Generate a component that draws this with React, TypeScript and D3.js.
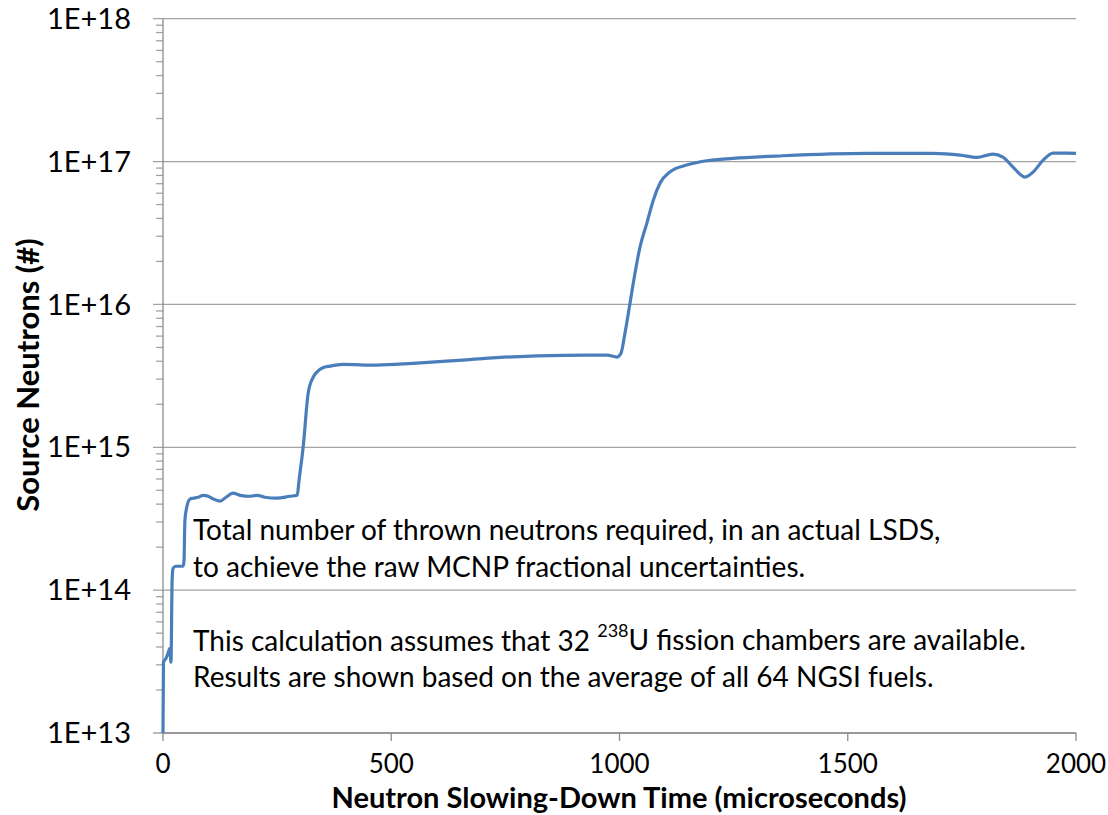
import * as d3 from "d3";

// time (microseconds) and source neutrons
const times = [
  0, 1, 6.6, 11, 15, 17.5, 20, 22, 28, 44, 46, 48, 53, 59, 66, 77, 88, 99, 107, 125, 138, 153,
  169, 191, 206, 223, 250, 278, 294, 298, 307, 318, 329, 337, 350, 366, 394, 469, 548, 657, 767,
  876, 973, 988, 994, 1003, 1012, 1023, 1034, 1045, 1060, 1074, 1089, 1111, 1147, 1191, 1249,
  1358, 1542, 1687, 1746, 1783, 1818, 1840, 1862, 1888, 1906, 1928, 1950, 1980, 2000,
];
const neutrons = [
  1e13, 3.13e13, 3.33e13, 3.61e13, 3.92e13, 3.13e13, 1.17e14, 1.42e14, 1.47e14, 1.47e14, 1.6e14,
  3.08e14, 3.93e14, 4.34e14, 4.4e14, 4.47e14, 4.61e14, 4.54e14, 4.4e14, 4.2e14, 4.47e14, 4.77e14,
  4.61e14, 4.54e14, 4.61e14, 4.47e14, 4.4e14, 4.54e14, 4.61e14, 5.86e14, 1e15, 2.39e15, 3.09e15,
  3.36e15, 3.6e15, 3.7e15, 3.8e15, 3.76e15, 3.87e15, 4.08e15, 4.3e15, 4.4e15, 4.42e15, 4.32e15,
  4.28e15, 4.54e15, 6.3e15, 1.02e16, 1.66e16, 2.53e16, 3.71e16, 5.37e16, 7.07e16, 8.48e16,
  9.45e16, 1.013e17, 1.053e17, 1.098e17, 1.14e17, 1.14e17, 1.11e17, 1.07e17, 1.128e17, 1.075e17,
  9.15e16, 7.79e16, 8.44e16, 1.024e17, 1.147e17, 1.147e17, 1.14e17,
];

const xTicks = [0, 500, 1000, 1500, 2000];
const yTicks = [1e13, 1e14, 1e15, 1e16, 1e17, 1e18];
const yTickLabels = ["1E+13", "1E+14", "1E+15", "1E+16", "1E+17", "1E+18"];

const W = 1108;
const H = 815;
const font = "Lato, 'Open Sans', sans-serif";

const App = () => {
  const x = d3.scaleLinear().domain([0, 2000]).range([163, 1076]);
  const y = d3.scaleLog().domain([1e13, 1e18]).range([733, 18.7]);

  const pts = times.map((t, i) => [t, neutrons[i]] as [number, number]);
  const line = d3
    .line<[number, number]>()
    .x((d) => x(d[0]))
    .y((d) => y(d[1]))
    .curve(d3.curveMonotoneX);

  // minor log ticks 2..9 in each decade
  const minor: number[] = [];
  for (let e = 13; e < 18; e++) {
    for (let k = 2; k <= 9; k++) minor.push(k * Math.pow(10, e));
  }

  return (
    <svg
      width={W}
      height={H}
      style={{ position: "absolute", left: 0, top: 0, background: "#fff" }}
      fontFamily={font}
    >
      {yTicks.map((v) => (
        <line key={"g" + v} x1={x(0) - 10} x2={x(2000)} y1={y(v)} y2={y(v)} stroke="#a3a3a3" strokeWidth={1.3} />
      ))}
      {minor.map((v) => (
        <line key={"m" + v} x1={x(0) - 7} x2={x(0)} y1={y(v)} y2={y(v)} stroke="#a3a3a3" strokeWidth={1.3} />
      ))}
      <line x1={x(0)} x2={x(0)} y1={y(1e18)} y2={y(1e13)} stroke="#8c8c8c" strokeWidth={1.3} />
      <line x1={x(0)} x2={x(2000)} y1={y(1e13)} y2={y(1e13)} stroke="#8c8c8c" strokeWidth={1.3} />
      {xTicks.map((t) => (
        <line key={"xt" + t} x1={x(t)} x2={x(t)} y1={y(1e13)} y2={y(1e13) + 8} stroke="#8c8c8c" strokeWidth={1.3} />
      ))}

      {yTicks.map((v, i) => (
        <text key={"yl" + v} x={131} y={y(v)} dy="0.35em" textAnchor="end" fontSize={29} fill="#000">
          {yTickLabels[i]}
        </text>
      ))}
      {xTicks.map((t) => (
        <text key={"xl" + t} x={x(t)} y={764} dy="0.35em" textAnchor="middle" fontSize={26} fill="#000">
          {t}
        </text>
      ))}

      <path d={line(pts) || ""} fill="none" stroke="#4a7ebb" strokeWidth={3.2} strokeLinejoin="round" />

      <text x={619} y={798} dy="0.35em" textAnchor="middle" fontSize={29} fontWeight="bold" fill="#000">
        Neutron Slowing-Down Time (microseconds)
      </text>
      <text
        transform="translate(28,375) rotate(-90)"
        dy="0.35em"
        textAnchor="middle"
        fontSize={31}
        fontWeight="bold"
        fill="#000"
      >
        Source Neutrons (#)
      </text>

      <g fontSize={28} fill="#000">
        <text x={193} y={530} dy="0.35em">Total number of thrown neutrons required, in an actual LSDS,</text>
        <text x={193} y={567} dy="0.35em">to achieve the raw MCNP fractional uncertainties.</text>
        <text x={193} y={641} dy="0.35em">
          This calculation assumes that 32{" "}
          <tspan fontSize={18} dy="-0.75em">238</tspan>
          <tspan dy="0.45em">U fission chambers are available.</tspan>
        </text>
        <text x={193} y={677} dy="0.35em">Results are shown based on the average of all 64 NGSI fuels.</text>
      </g>
    </svg>
  );
};

export default App;
